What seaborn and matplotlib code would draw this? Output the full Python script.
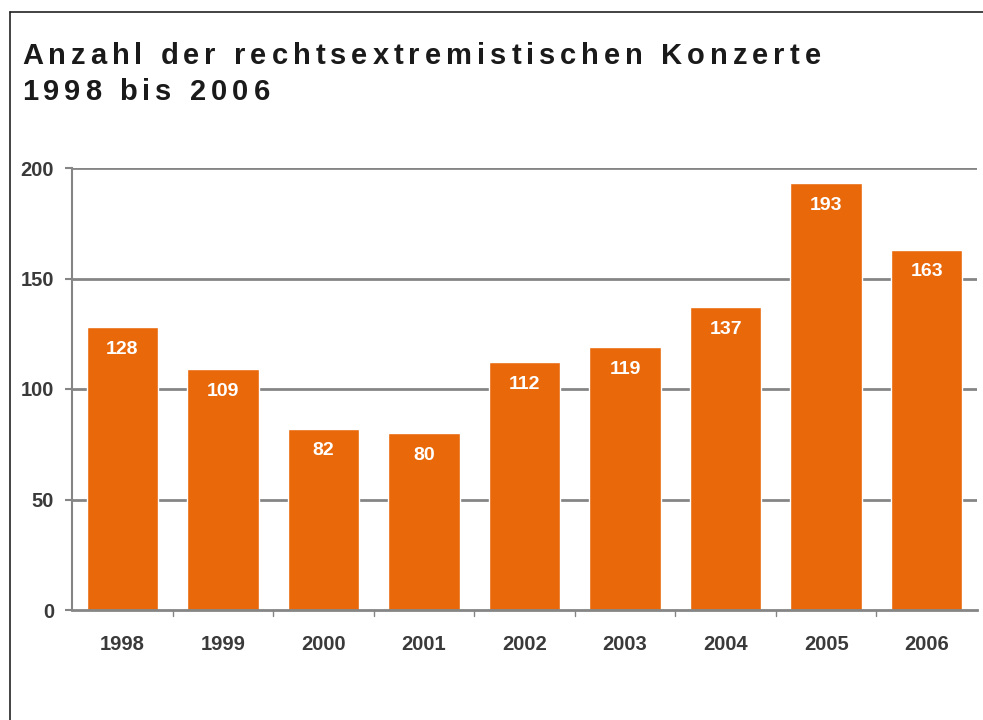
import matplotlib
matplotlib.use("Agg")
import matplotlib.pyplot as plt
import pandas as pd
import seaborn as sb

years = ["1998", "1999", "2000", "2001", "2002", "2003", "2004", "2005", "2006"]
konzerte = [128, 109, 82, 80, 112, 119, 137, 193, 163]
y_ticks = [0, 50, 100, 150, 200]
title_lines = ["Anzahl der rechtsextremistischen Konzerte", "1998 bis 2006"]

df = pd.DataFrame({"Jahr": years, "Anzahl": konzerte})

sb.set_style("white")
plt.rcParams["font.family"] = ["Liberation Sans", "DejaVu Sans"]

orange = "#E8680A"
grid_col = "#858585"
W, H = 983, 720


def spaced_text(fig, x_px, y_px, s, tracking_px, **kw):
    # draw text one character at a time to imitate letter spacing
    renderer = fig.canvas.get_renderer()
    x = x_px
    for ch in s:
        t = fig.text(x / W, 1 - y_px / H, ch, va="baseline", ha="left", **kw)
        w = t.get_window_extent(renderer=renderer).width
        if ch == " ":
            w = t.get_fontsize() * 100 / 72 * 0.278
        x += w + tracking_px


fig = plt.figure(figsize=(W / 100, H / 100), dpi=100)
ax = fig.add_axes([72 / W, 1 - 610 / H, 905 / W, 442 / H])

sb.barplot(data=df, x="Jahr", y="Anzahl", color=orange, width=0.71,
           saturation=1, ax=ax)

ax.set_ylim(0, 200)
ax.set_xlim(-0.5, len(years) - 0.5)
ax.set_yticks(y_ticks)
ax.set_yticklabels([str(t) for t in y_ticks], fontsize=14.5, fontweight="bold",
                   color="#3a3a3a")
ax.set_xticks(range(len(years)))
ax.set_xticklabels(years, fontsize=14.5, fontweight="bold", color="#3a3a3a")
ax.set_xlabel("")
ax.set_ylabel("")
ax.tick_params(axis="x", length=0, pad=18)
ax.tick_params(axis="y", length=5, width=1.5, color=grid_col, pad=8, left=True)

# category boundary ticks on x axis
for b in range(1, len(years)):
    ax.plot([b - 0.5, b - 0.5], [0, -2.5], color=grid_col, lw=1,
            clip_on=False)

for t in y_ticks[1:]:
    ax.axhline(t, color=grid_col, lw=2, zorder=0)

for s in ["top", "right"]:
    ax.spines[s].set_visible(False)
ax.spines["left"].set_color(grid_col)
ax.spines["left"].set_linewidth(1.5)
ax.spines["bottom"].set_color(grid_col)
ax.spines["bottom"].set_linewidth(2)

for i, v in enumerate(konzerte):
    ax.text(i, v - 10, str(v), ha="center", va="center", color="white",
            fontsize=14, fontweight="bold")

spaced_text(fig, 22, 64, title_lines[0], 5.0, fontsize=21, fontweight="bold",
            color="#1a1a1a")
spaced_text(fig, 22, 100, title_lines[1], 5.0, fontsize=21, fontweight="bold",
            color="#1a1a1a")

# outer frame
fig.add_artist(plt.Line2D([10 / W, 10 / W], [0, 1 - 12 / H],
                          color="#222222", lw=1.2))
fig.add_artist(plt.Line2D([10 / W, 1], [1 - 12 / H, 1 - 12 / H],
                          color="#222222", lw=1.2))

fig.savefig("out.png", dpi=100)
